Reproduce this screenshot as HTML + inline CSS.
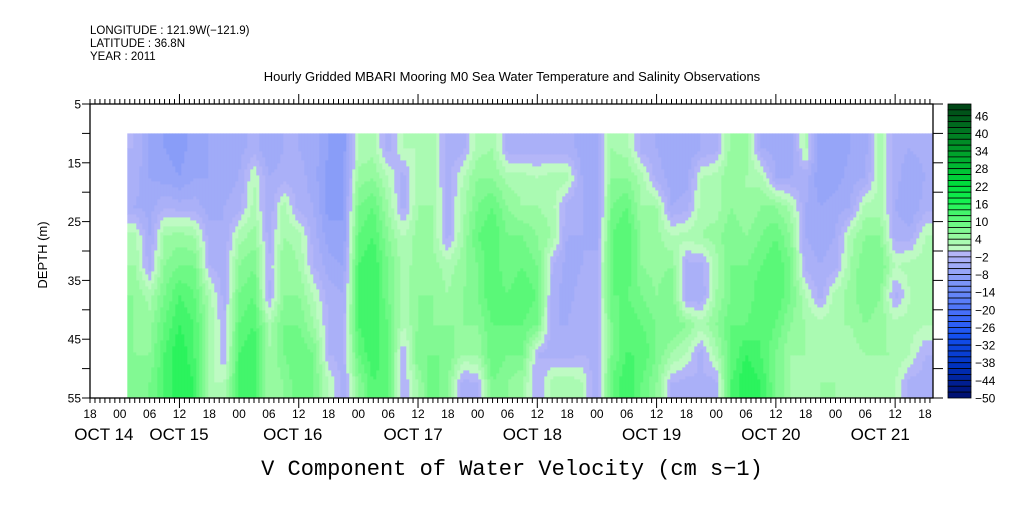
<!DOCTYPE html>
<html><head><meta charset="utf-8"><style>
html,body{margin:0;padding:0;background:#fff;}
svg text{font-family:"Liberation Sans",sans-serif;fill:#000;}
</style></head><body>
<svg id="chart" width="1009" height="504" viewBox="0 0 1009 504" xmlns="http://www.w3.org/2000/svg">
<g id="header">
<text x="90" y="34" font-size="11.5">LONGITUDE : 121.9W(−121.9)</text>
<text x="90" y="47" font-size="11.5">LATITUDE : 36.8N</text>
<text x="90" y="60" font-size="11.5">YEAR : 2011</text>
<text x="512" y="81" font-size="13" text-anchor="middle">Hourly Gridded MBARI Mooring M0 Sea Water Temperature and Salinity Observations</text>
</g>
<g id="heat"></g>
<g id="axes"></g>
<g id="cbar"></g>
<text x="47" y="255" font-size="13" text-anchor="middle" transform="rotate(-90 47 255)">DEPTH (m)</text>
<text x="512" y="475" font-size="22" text-anchor="middle" style="font-family:'Liberation Mono',monospace">V Component of Water Velocity (cm s−1)</text>
</svg>
<script>
// data: columns of 3-hour bins starting at hour 7.5 after Oct 14 18:00; rows = depth bands 10-15 ... 50-55 m
const startHour = 7.5;
const binHours = 3;
const depthRows = [12.5,17.5,22.5,27.5,32.5,37.5,42.5,47.5,52.5];
const vGrid = [
[-2,-3,-4,3,4,6,6,6,6],
[-6,-6,-5,-4,-3,3,5,6,8],
[-8,-7,-2,4,6,8,10,12,12],
[-9,-8,-3,5,8,12,14,16,16],
[-7,-6,-3,4,8,10,12,12,14],
[-6,-6,-5,-3,-2,3,4,4,2],
[-5,-5,-4,-4,-3,-3,-2,-2,2],
[-5,-4,-3,3,6,8,10,12,12],
[-3,2,3,5,8,10,12,14,14],
[-6,-4,-4,-3,-2,-3,3,4,4],
[-4,-3,3,4,6,6,8,8,6],
[-4,-3,-3,3,4,6,8,10,10],
[-5,-5,-4,-3,-2,2,4,8,8],
[-8,-9,-9,-7,-5,-3,-2,-2,2],
[-9,-9,-8,-8,-6,-4,-3,-3,-3],
[2,5,8,10,12,12,12,10,6],
[3,6,10,12,14,14,14,14,12],
[-3,2,4,6,8,8,10,10,10],
[2,-3,-3,2,3,3,2,-2,-2],
[2,3,4,5,5,6,6,8,4],
[3,3,4,4,5,6,6,8,10],
[-3,-3,-3,-3,3,4,6,8,6],
[-3,2,3,4,5,6,6,4,-3],
[3,6,8,10,8,8,6,4,-2],
[4,6,10,12,12,12,10,10,8],
[-3,3,6,8,8,10,10,8,6],
[-3,3,4,8,10,12,10,8,4],
[-3,2,4,6,8,10,8,-2,-2],
[-3,3,3,4,-2,-3,-4,-3,3],
[-3,3,-3,-4,-5,-5,-4,-3,4],
[-5,-4,-4,-4,-4,-3,-2,-2,2],
[-4,-5,-6,-5,-3,-3,-3,-3,-4],
[4,6,8,10,10,10,8,8,10],
[3,6,10,12,12,10,12,12,14],
[-3,3,4,6,6,8,10,12,10],
[-4,-3,4,5,5,6,8,8,6],
[-5,-5,-4,2,6,8,8,4,-2],
[-6,-5,-3,3,-3,-4,6,2,-3],
[-4,2,3,4,-3,-4,3,-3,-2],
[-3,3,3,5,3,4,6,3,-3],
[5,6,6,8,8,8,10,10,12],
[5,4,4,6,8,8,10,14,16],
[-4,3,6,8,10,12,12,12,14],
[-5,-4,6,10,12,12,10,8,8],
[-6,-4,3,6,8,8,6,4,4],
[3,-3,-4,-4,-3,2,4,4,3],
[-8,-8,-6,-5,-4,-3,3,3,4],
[-8,-7,-5,-4,-3,3,4,3,4],
[-6,-5,-4,3,4,5,4,3,2],
[-5,-4,3,6,8,8,6,4,3],
[3,3,3,6,8,6,5,4,3],
[-3,-3,-4,-3,2,-3,3,4,2],
[-4,-6,-6,-3,3,2,3,2,-3],
[-3,-4,-3,2,3,3,2,-2,-3]
];
const hourLabels = ["18","00","06","12","18","00","06","12","18","00","06","12","18","00","06","12","18","00","06","12","18","00","06","12","18","00","06","12","18"];
const dayLabels = ["OCT 14","OCT 15","OCT 16","OCT 17","OCT 18","OCT 19","OCT 20","OCT 21"];
const dayLabelHours = [2.8,17.9,40.8,65,89,113,137,159];
const depthTicks = [5,10,15,20,25,30,35,40,45,50,55];
const depthLabels = [5,15,25,35,45,55];
const cbarLabels = [46,40,34,28,22,16,10,4,-2,-8,-14,-20,-26,-32,-38,-44,-50];
const levelMin = -50, levelMax = 50, levelStep = 2;
const dataTopDepth = 10;

const NS="http://www.w3.org/2000/svg";
const X0=90, X1=933, Y0=104, Y1=398, PXH=4.97;
const xs=h=>X0+h*PXH;
const ys=d=>Y0+(d-5)*(Y1-Y0)/50;
function mk(tag,attrs,parent){const e=document.createElementNS(NS,tag);for(const k in attrs)e.setAttribute(k,attrs[k]);parent.appendChild(e);return e;}
const gAnch=[[0,[190,250,195]],[4,[150,250,160]],[10,[90,248,120]],[16,[20,240,80]],[22,[0,220,60]],[34,[0,150,40]],[50,[0,60,20]]];
const bAnch=[[0,[180,182,248]],[-6,[150,165,248]],[-12,[110,140,248]],[-20,[70,110,248]],[-28,[20,80,240]],[-38,[0,50,190]],[-50,[0,10,100]]];
function interp(a,v){for(let i=0;i<a.length-1;i++){const [v0,c0]=a[i],[v1,c1]=a[i+1];const lo=Math.min(v0,v1),hi=Math.max(v0,v1);if(v>=lo&&v<=hi){const t=(v-v0)/(v1-v0);return c0.map((c,j)=>Math.round(c+(c1[j]-c)*t));}}return a[a.length-1][1];}
function levelColor(v){const k=Math.floor(v/levelStep)*levelStep;const mid=k+levelStep/2;const c=mid>=0?interp(gAnch,k):interp(bAnch,k+levelStep);return `rgb(${c[0]},${c[1]},${c[2]})`;}
function sample(h,d){
  const n=vGrid.length;
  let fc=(h-startHour)/binHours-0.5; fc=Math.max(0,Math.min(n-1,fc));
  const c0=Math.floor(fc),c1=Math.min(n-1,c0+1),tc=fc-c0;
  let fr=(d-depthRows[0])/(depthRows[1]-depthRows[0]); fr=Math.max(0,Math.min(depthRows.length-1,fr));
  const r0=Math.floor(fr),r1=Math.min(depthRows.length-1,r0+1),tr=fr-r0;
  const a=vGrid[c0][r0]*(1-tr)+vGrid[c0][r1]*tr, b=vGrid[c1][r0]*(1-tr)+vGrid[c1][r1]*tr;
  return a*(1-tc)+b*tc;
}
const heat=document.getElementById('heat');
const hEnd=startHour+vGrid.length*binHours;
const xa=xs(startHour), xb=Math.min(X1,xs(hEnd));
const ya=ys(dataTopDepth), yb=Y1;
const cw=3, ch=3;
for(let x=xa;x<xb;x+=cw){
  const w=Math.min(cw,xb-x);
  const h=(x+w/2-X0)/PXH;
  let y=ya, prev=null, runStart=ya;
  const flush=(yEnd)=>{const r=mk('rect',{x:x.toFixed(1),y:runStart.toFixed(1),width:(w+0.3).toFixed(1),height:(yEnd-runStart+0.3).toFixed(1),fill:prev},heat);
    
    };
  for(;y<yb;y+=ch){
    const hh=Math.min(ch,yb-y);
    const d=5+(y+hh/2-Y0)*50/(Y1-Y0);
    const col=levelColor(sample(h,d));
    if(prev!==null&&col!==prev){flush(y);runStart=y;}
    prev=col;
  }
  flush(yb);
}
const ax=document.getElementById('axes');
const frame=mk('rect',{x:X0,y:Y0,width:X1-X0,height:Y1-Y0,fill:'none',stroke:'#000','stroke-width':1.3},ax);


for(let h=0;X0+h*PXH<=X1+0.5;h++){
  const x=xs(h), major=((h+6)%24===0), len=major?10:5;
  mk('line',{x1:x,y1:Y0,x2:x,y2:Y0-len,stroke:'#000','stroke-width':1},ax);
  mk('line',{x1:x,y1:Y1,x2:x,y2:Y1+len,stroke:'#000','stroke-width':1},ax);
}
hourLabels.forEach((lab,i)=>{
  const t=mk('text',{x:xs(i*6),y:418,'font-size':12,'text-anchor':'middle'},ax);t.textContent=lab;
  
  
});
dayLabels.forEach((lab,i)=>{
  const t=mk('text',{x:xs(dayLabelHours[i]),y:440,'font-size':17,'text-anchor':'middle'},ax);t.textContent=lab;
  
  
});
depthTicks.forEach(d=>{
  const y=ys(d);
  mk('line',{x1:X0-8,y1:y,x2:X0,y2:y,stroke:'#000','stroke-width':1},ax);
  mk('line',{x1:X1,y1:y,x2:X1+10,y2:y,stroke:'#000','stroke-width':1},ax);
});
depthLabels.forEach(d=>{
  const t=mk('text',{x:81,y:ys(d)+4.5,'font-size':12,'text-anchor':'end'},ax);t.textContent=d;
  
  
});
const cb=document.getElementById('cbar');
const CX=948, CW=23, nLev=(levelMax-levelMin)/levelStep, bh=(Y1-Y0)/nLev;
for(let i=0;i<nLev;i++){
  const v=levelMax-levelStep*(i+1);
  const r=mk('rect',{x:CX,y:(Y0+i*bh).toFixed(2),width:CW,height:bh.toFixed(2),fill:levelColor(v+levelStep/2),stroke:'#000','stroke-width':0.8},cb);
  
  
}
cbarLabels.forEach(v=>{
  const y=Y0+(levelMax-v)/levelStep*bh;
  const t=mk('text',{x:975,y:y+4.5,'font-size':12},cb);t.textContent=(v<0?'−':'')+Math.abs(v);
  
  
});
</script>
</body></html>
